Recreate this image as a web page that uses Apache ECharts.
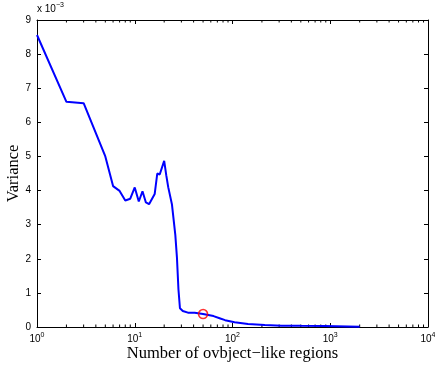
<!DOCTYPE html>
<html>
<head>
<meta charset="utf-8">
<script src="https://cdn.jsdelivr.net/npm/echarts@6/dist/echarts.min.js"></script>
<style>
  html, body { margin: 0; padding: 0; background: #fff; }
  #chart { width: 435px; height: 368px; }
</style>
</head>
<body>
<div id="chart"></div>
<script>
// number of regions (log axis) and variance in units of 1e-3
const regions = [1, 2, 3, 5, 6, 7, 8, 9, 10, 11, 12, 13, 14, 16, 17, 18, 20, 21, 22, 24, 26, 27, 28, 29, 31, 35, 41, 50, 64, 75, 84, 105, 144, 214, 317, 500, 880, 2000];
const variance = [8.56, 6.6, 6.56, 5.0, 4.13, 3.99, 3.71, 3.76, 4.09, 3.68, 3.98, 3.65, 3.6, 3.9, 4.5, 4.47, 4.87, 4.45, 4.1, 3.6, 2.7, 2.05, 1.1, 0.55, 0.47, 0.42, 0.42, 0.38, 0.32, 0.25, 0.2, 0.14, 0.09, 0.06, 0.04, 0.035, 0.03, 0.01];
const selected = [[50, 0.38]];
const yTicks = [0, 1, 2, 3, 4, 5, 6, 7, 8, 9];
const minorTicks = [2, 3, 4, 5, 6, 7, 8, 9, 20, 30, 40, 50, 60, 70, 80, 90, 200, 300, 400, 500, 600, 700, 800, 900, 2000, 3000, 4000, 5000, 6000, 7000, 8000, 9000];

const chart = echarts.init(document.getElementById('chart'));

const tickFont = 'Liberation Sans, Arial, sans-serif';
const serif = 'Liberation Serif, Times New Roman, serif';
const boxLine = { onZero: false, lineStyle: { color: '#000', width: 1 } };

const option = {
  animation: false,
  grid: { left: 37, right: 7, top: 20, bottom: 41, outerBoundsMode: 'none', containLabel: false },
  xAxis: [{
    type: 'log',
    logBase: 10,
    min: 1,
    max: 10000,
    name: 'Number of ovbject\u2212like regions',
    nameLocation: 'middle',
    nameGap: 18,
    nameMoveOverlap: false,
    nameTextStyle: { fontFamily: serif, fontSize: 16.5, color: '#000' },
    axisLine: boxLine,
    axisTick: { inside: true, length: 4, lineStyle: { color: '#000' } },
    splitLine: { show: false },
    axisLabel: {
      margin: 5,
      formatter: v => '{b|10}{s|' + Math.round(Math.log10(v)) + '}',
      rich: {
        b: { fontFamily: tickFont, fontSize: 10, color: '#000', lineHeight: 14 },
        s: { fontFamily: tickFont, fontSize: 7, color: '#000', lineHeight: 14, padding: [0, 0, 7, 0] }
      }
    }
  }, {
    type: 'log',
    logBase: 10,
    min: 1,
    max: 10000,
    position: 'top',
    axisLine: boxLine,
    axisTick: { inside: true, length: 4, lineStyle: { color: '#000' } },
    axisLabel: { show: false },
    splitLine: { show: false }
  }],
  yAxis: [{
    type: 'value',
    min: yTicks[0],
    max: yTicks[yTicks.length - 1],
    interval: 1,
    name: 'Variance',
    nameLocation: 'middle',
    nameGap: 15,
    nameMoveOverlap: false,
    nameTextStyle: { fontFamily: serif, fontSize: 16.5, color: '#000' },
    axisLine: Object.assign({ show: true }, boxLine),
    axisTick: { show: true, inside: true, length: 4, lineStyle: { color: '#000' } },
    splitLine: { show: false },
    axisLabel: { margin: 6, fontFamily: tickFont, fontSize: 10, color: '#000' }
  }, {
    type: 'value',
    min: 0,
    max: 9,
    interval: 1,
    position: 'right',
    axisLine: Object.assign({ show: true }, boxLine),
    axisTick: { show: true, inside: true, length: 4, lineStyle: { color: '#000' } },
    axisLabel: { show: false },
    splitLine: { show: false }
  }],
  graphic: [{
    type: 'text',
    left: 37,
    top: 2,
    style: {
      text: '{b|x 10}{s|\u22123}',
      rich: {
        b: { fontFamily: tickFont, fontSize: 10, fill: '#000', lineHeight: 14 },
        s: { fontFamily: tickFont, fontSize: 7, fill: '#000', lineHeight: 14, padding: [0, 0, 7, 0] }
      }
    }
  }],
  series: [{
    type: 'custom',
    xAxisIndex: 0,
    yAxisIndex: 0,
    silent: true,
    clip: false,
    data: minorTicks.map(v => [v]),
    renderItem: (params, api) => {
      const b = api.coord([api.value(0), 0]);
      const t = api.coord([api.value(0), 9]);
      const style = { stroke: '#000', lineWidth: 1 };
      return {
        type: 'group',
        children: [
          { type: 'line', shape: { x1: b[0], y1: b[1], x2: b[0], y2: b[1] - 2.5 }, style },
          { type: 'line', shape: { x1: t[0], y1: t[1], x2: t[0], y2: t[1] + 2.5 }, style }
        ]
      };
    }
  }, {
    type: 'line',
    data: regions.map((r, i) => [r, variance[i]]),
    showSymbol: false,
    lineStyle: { color: '#0000ff', width: 2 },
    itemStyle: { color: '#0000ff' },
    z: 3
  }, {
    type: 'scatter',
    data: selected,
    symbol: 'circle',
    symbolSize: 9,
    itemStyle: { color: 'transparent', borderColor: '#ff0000', borderWidth: 1.6 },
    z: 4
  }]
};

chart.setOption(option);
</script>
</body>
</html>
